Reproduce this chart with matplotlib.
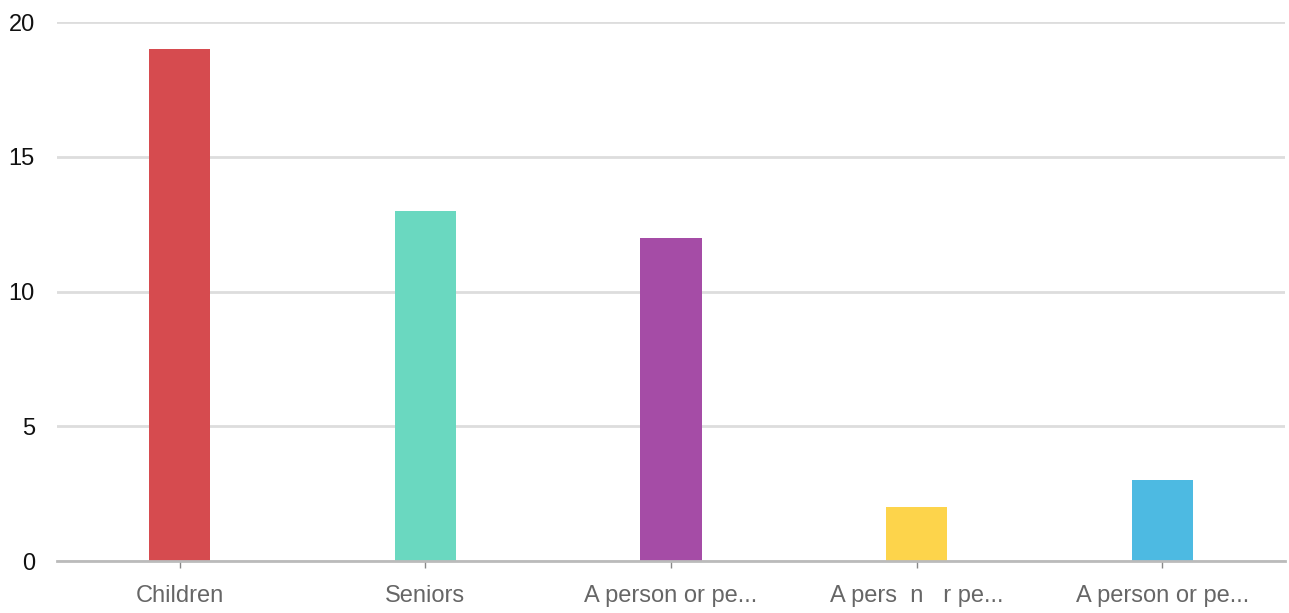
import matplotlib.pyplot as plt
import numpy as np

# --------- Daten --------------
categories = ['Children', 'Seniors', 'A person or pe...', 'A pers  n   r pe...', 'A person or pe...']
values = [19, 13, 12, 2, 3]
colors = ['#d64b4f', '#6ad8c0', '#a54ca6', '#fdd44b', '#4dbae2']
y_ticks = [0, 5, 10, 15, 20]

plt.rcParams['font.family'] = ['Liberation Sans', 'DejaVu Sans']

fig = plt.figure(figsize=(12.89, 6.13), dpi=100)
ax = fig.add_axes([0.0442, 0.0848, 0.9527, 0.8793])

x = np.arange(len(categories))
ax.bar(x, values, width=0.25, color=colors, zorder=3)

ax.set_xlim(-0.5, len(categories) - 0.5)
ax.set_ylim(0, 20)
ax.set_yticks(y_ticks)
ax.set_xticks(x)
ax.set_xticklabels(categories, fontsize=17, color='#666666')
ax.tick_params(axis='y', length=0, pad=16, labelsize=17, labelcolor='#111111')
ax.tick_params(axis='x', length=5, width=1, color='#888888', pad=12)

ax.grid(axis='y', color='#dddddd', linewidth=2, zorder=0)
for s in ['top', 'right', 'left']:
    ax.spines[s].set_visible(False)
ax.spines['bottom'].set_color('#bbbbbb')
ax.spines['bottom'].set_linewidth(2)
ax.spines['bottom'].set_zorder(4)

fig.savefig('out.png', dpi=100)
